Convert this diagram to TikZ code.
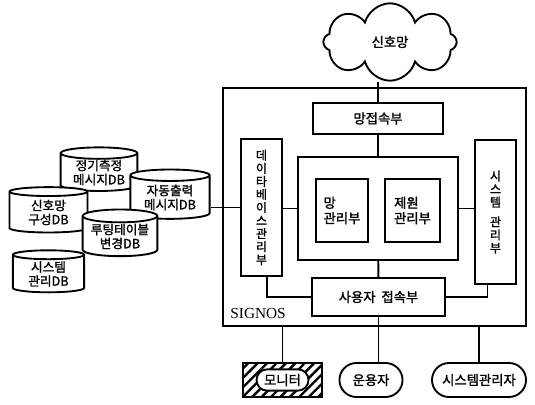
\documentclass[tikz,border=0pt]{standalone}
\usepackage{fontspec}
\setmainfont{Liberation Serif}
\newfontfamily\kr{Noto Sans CJK KR}[AutoFakeBold=1.5]
\usetikzlibrary{positioning,shapes.geometric,shapes.symbols,shapes.misc,patterns.meta}
\begin{document}
\begin{tikzpicture}[x=0.75pt,y=-0.75pt,line width=1.4pt,
  box/.style={draw,font=\kr\bfseries\fontsize{10}{11.5}\selectfont,inner sep=1pt},
  vbox/.style={box,align=center,font=\kr\bfseries\fontsize{9}{9.8}\selectfont},
  dbcyl/.style={draw,fill=white,cylinder,shape border rotate=90,aspect=0.22,
    align=center,font=\kr\bfseries\fontsize{9.5}{10.5}\selectfont,inner sep=0pt},
  term/.style={draw,fill=white,rounded rectangle,font=\kr\bfseries\fontsize{10}{11.5}\selectfont}]
  \useasboundingbox (0,0) rectangle (535,404);

  % network
  \node[cloud,draw,cloud puffs=8,aspect=1.8,minimum width=100pt,minimum height=58pt,
    font=\kr\bfseries\fontsize{10}{11.5}\selectfont] (net) at (390,42) {신호망};

  % SIGNOS
  \node[draw,minimum width=227pt,minimum height=178.5pt] (signos) at (374.5,207) {};
  \node[font=\fontsize{11.5}{12}\selectfont,anchor=west] (name) at (225,313) {SIGNOS};
  \node[box,minimum width=97.5pt,minimum height=23pt] (netif) at (378,118.5) {망접속부};
  \node[box,minimum width=120pt,minimum height=77pt] (core) at (378,208.5) {};
  \node[box,minimum width=39pt,minimum height=47pt,align=left] (netmgr) at (342,210.5) {망\\관리부};
  \node[box,minimum width=41pt,minimum height=47pt,align=left] (resmgr) at (412.5,210.5) {제원\\관리부};
  \node[vbox,minimum width=30.75pt,minimum height=102.75pt] (dbmgr) at (261.5,207.5)
    {데\\이\\타\\베\\이\\스\\관\\리\\부};
  \node[vbox,minimum width=30.75pt,minimum height=108pt] (sysmgr) at (495.5,212)
    {시\\스\\템\\[5pt]관\\리\\부};
  \node[box,minimum width=99.75pt,minimum height=28pt] (userif) at (378.5,297) {사용자\ \ 접속부};

  % databases
  \node[dbcyl,minimum width=57.5pt,minimum height=31pt] (regdb) at (99,172.5) {정기측정\\메시지DB};
  \node[dbcyl,minimum width=59.5pt,minimum height=37pt] (autodb) at (170,197.5) {자동출력\\메시지DB};
  \node[dbcyl,minimum width=58.5pt,minimum height=34pt] (cfgdb) at (48.5,212.5) {신호망\\구성DB};
  \node[dbcyl,minimum width=56pt,minimum height=35pt] (routdb) at (120,236.5) {루팅테이블\\변경DB};
  \node[dbcyl,minimum width=53.5pt,minimum height=31.5pt] (sysdb) at (48.5,274) {시스템\\관리DB};

  % terminals
  \node[draw,minimum width=59pt,minimum height=25.5pt,
    pattern={Lines[angle=45,distance=5pt,line width=1.8pt]}] (monbox) at (282.5,380) {};
  \node[term,minimum width=41pt,minimum height=16pt,inner sep=1pt] (monitor) at (monbox) {모니터};
  \node[term,minimum width=54pt,minimum height=25.5pt] (oper) at (371,380) {운용자};
  \node[term,minimum width=73.5pt,minimum height=25.5pt,inner sep=1.5pt] (sysadm) at (479,380) {시스템관리자};

  % connectors
  \draw (netif.north) -- (netif.north |- net.south);
  \draw (netif) -- (core);
  \draw (core) -- (userif);
  \draw (core.west) -- (core.west -| dbmgr.east);
  \draw (core.east) -- (core.east -| sysmgr.west);
  \draw (dbmgr.west) -- (dbmgr.west -| autodb.east);
  \draw ([xshift=4pt]dbmgr.south) |- (userif.west);
  \draw ([xshift=-6pt]sysmgr.south) |- (userif.east);
  \draw (userif.south) -- (userif.south |- oper.north);
  \draw (signos.south -| monbox.north) -- (monbox.north);
  \draw (signos.south -| sysadm.north) -- (sysadm.north);
\end{tikzpicture}
\end{document}
